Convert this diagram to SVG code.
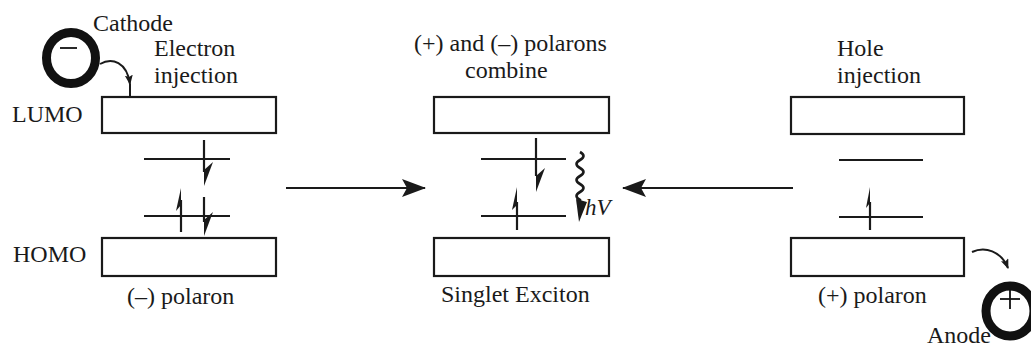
<svg xmlns="http://www.w3.org/2000/svg" width="1031" height="346" viewBox="0 0 1031 346">
  <style>
    .lbl { font-family: "Liberation Serif", "Times New Roman", serif; font-size: 24px; fill: #1a1a1a; }
    .it { font-style: italic; font-size: 23px; }
    .band { fill: #ffffff; stroke: #1a1a1a; stroke-width: 2.2; }
    .level { stroke: #1a1a1a; stroke-width: 2; fill: none; }
    .spin { stroke: #1a1a1a; stroke-width: 2.2; fill: none; }
    .wave { stroke: #1a1a1a; stroke-width: 2.6; fill: none; }
    .barb { fill: #1a1a1a; stroke: none; }
    .flow { stroke: #1a1a1a; stroke-width: 2.2; fill: none; }
    .curve { stroke: #1a1a1a; stroke-width: 2; fill: none; }
    .electrode { fill: none; stroke: #111; stroke-width: 9; }
    .sign { stroke: #111; stroke-width: 1.8; fill: none; }
  </style>
  <defs>
    <marker id="bigHead" viewBox="0 0 24 18" refX="23" refY="9" markerWidth="24" markerHeight="18" markerUnits="userSpaceOnUse" orient="auto">
      <path d="M0,0 L24,9 L0,18 L5,9 z" fill="#1a1a1a"/>
    </marker>
    <marker id="smallHead" viewBox="0 0 10 8" refX="9" refY="4" markerWidth="10" markerHeight="8" markerUnits="userSpaceOnUse" orient="auto">
      <path d="M0,0 L10,4 L0,8 L2,4 z" fill="#1a1a1a"/>
    </marker>
  </defs>

  <rect width="1031" height="346" fill="#ffffff"/>

  <!-- Cathode electrode -->
  <g id="cathode">
    <ellipse class="electrode" cx="71" cy="58" rx="24.5" ry="25.5"/>
    <line class="sign" x1="60" y1="48" x2="77" y2="48"/>
    <text class="lbl" x="93" y="31">Cathode</text>
  </g>

  <!-- Anode electrode -->
  <g id="anode">
    <ellipse class="electrode" cx="1010" cy="311" rx="24" ry="25"/>
    <line class="sign" x1="1000" y1="299" x2="1020" y2="299"/>
    <line class="sign" x1="1010" y1="289" x2="1010" y2="309"/>
    <text class="lbl" x="927" y="343">Anode</text>
  </g>

  <!-- Negative polaron state -->
  <g id="neg-polaron">
    <text class="lbl" x="12" y="122">LUMO</text>
    <text class="lbl" x="13" y="262">HOMO</text>
    <text class="lbl" x="154" y="56">Electron</text>
    <text class="lbl" x="154" y="83">injection</text>
    <rect class="band" x="102" y="97" width="174" height="36"/>
    <rect class="band" x="102" y="238" width="174" height="38"/>
    <line class="level" x1="144" y1="159" x2="230" y2="159"/>
    <line class="level" x1="144" y1="216" x2="230" y2="216"/>
    <!-- spin down, upper level -->
    <line class="spin" x1="204" y1="140" x2="204" y2="172"/>
    <polygon class="barb" points="204,186 213,162 204,170"/>
    <!-- spin up, lower level -->
    <line class="spin" x1="181" y1="232" x2="181" y2="200"/>
    <polygon class="barb" points="181,188 176,211 181,205"/>
    <!-- spin down, lower level -->
    <line class="spin" x1="204" y1="197" x2="204" y2="222"/>
    <polygon class="barb" points="204,236 213,212 204,220"/>
    <text class="lbl" x="127" y="304">(–) polaron</text>
  </g>

  <!-- Singlet exciton state -->
  <g id="exciton">
    <text class="lbl" x="414" y="51">(+) and (–) polarons</text>
    <text class="lbl" x="465" y="78">combine</text>
    <rect class="band" x="434" y="97" width="175" height="36"/>
    <rect class="band" x="434" y="238" width="175" height="38"/>
    <line class="level" x1="481" y1="159" x2="566" y2="159"/>
    <line class="level" x1="481" y1="216" x2="566" y2="216"/>
    <line class="spin" x1="536" y1="138" x2="536" y2="176"/>
    <polygon class="barb" points="536,192 545,168 536,176"/>
    <line class="spin" x1="517" y1="230" x2="517" y2="202"/>
    <polygon class="barb" points="517,187 512,210 517,205"/>
    <!-- emitted photon -->
    <path class="wave" d="M580,152 q7,4 0,8 q-7,4 0,8 q7,4 0,8 q-7,4 0,8 q7,4 0,8 q-7,4 0,8 l0,4"/>
    <polygon class="barb" points="576,199 587,202 579,222"/>
    <text class="lbl it" x="585" y="215">hV</text>
    <text class="lbl" x="441" y="302">Singlet Exciton</text>
  </g>

  <!-- Positive polaron state -->
  <g id="pos-polaron">
    <text class="lbl" x="837" y="56">Hole</text>
    <text class="lbl" x="837" y="83">injection</text>
    <rect class="band" x="791" y="97" width="173" height="37"/>
    <rect class="band" x="791" y="238" width="173" height="38"/>
    <line class="level" x1="839" y1="160" x2="923" y2="160"/>
    <line class="level" x1="839" y1="217" x2="923" y2="217"/>
    <line class="spin" x1="870" y1="230" x2="870" y2="202"/>
    <polygon class="barb" points="870,187 866,208 870,203"/>
    <text class="lbl" x="818" y="303">(+) polaron</text>
  </g>

  <!-- Connectors -->
  <g id="connectors">
    <line class="flow" x1="286" y1="188" x2="425" y2="188" marker-end="url(#bigHead)"/>
    <line class="flow" x1="793" y1="188" x2="623" y2="188" marker-end="url(#bigHead)"/>
    <path class="curve" d="M100,64 C112,57 127,62 130,84" marker-end="url(#smallHead)"/>
    <line class="curve" x1="130" y1="84" x2="130" y2="97"/>
    <path class="curve" d="M972,252 C985,246 1001,251 1008,268" marker-end="url(#smallHead)"/>
  </g>
</svg>
